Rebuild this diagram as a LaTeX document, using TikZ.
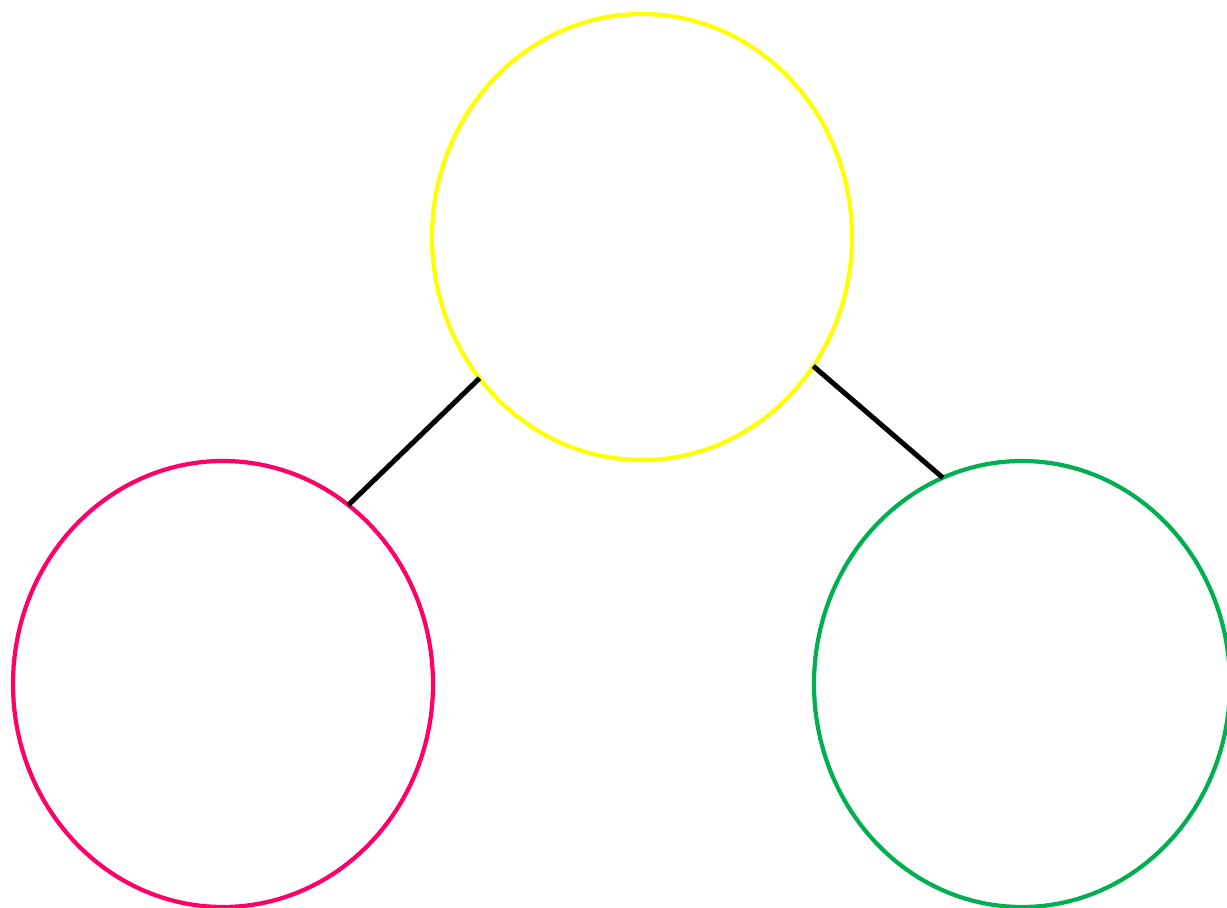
\documentclass[tikz,border=0pt]{standalone}
\usetikzlibrary{shapes.geometric}
\definecolor{cyel}{HTML}{FFFF00}
\definecolor{cred}{HTML}{FF0066}
\definecolor{cgrn}{HTML}{00B050}
\begin{document}
\begin{tikzpicture}[x=0.5pt,y=-0.5pt,
  bubble/.style={ellipse,draw,line width=2.1pt,inner sep=0pt,outer sep=0pt,minimum width=#1},
  link/.style={draw=black,line width=2.5pt}]
\useasboundingbox (0,0) rectangle (1227,908);
\node[bubble=210pt,minimum height=223pt,draw=cyel] (top) at (642,237) {};
\node[bubble=210pt,minimum height=223pt,draw=cred] (left) at (223,684) {};
\node[bubble=208pt,minimum height=223pt,draw=cgrn] (right) at (1022,684) {};
\draw[link] (top.221.5) -- (left.55.8);
\draw[link] (top.-37) -- (right.111.7);
\end{tikzpicture}
\end{document}
